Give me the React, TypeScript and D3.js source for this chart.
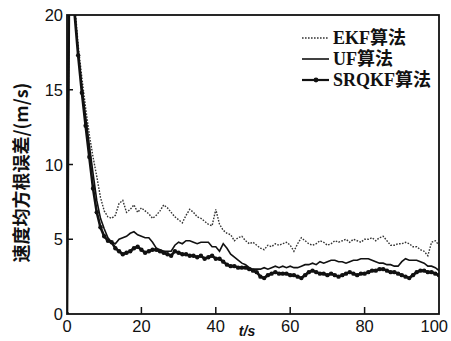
import * as d3 from "d3";

const W = 451;
const H = 341;
const M = { left: 67, right: 12, top: 15, bottom: 27 };

const times = d3.range(0, 101);

const ekf = [
	0, 40, 21, 18, 15.8, 13.8, 12, 10.5, 9.2, 7.8, 6.9, 6.5, 6.4, 6.6, 7.4, 7.6, 6.8, 7.0, 7.3, 6.8,
	7.1, 6.9, 6.7, 6.4, 6.6, 6.9, 7.3, 7.1, 6.8, 6.5, 6.3, 6.1, 6.6, 7.0, 6.8, 6.5, 6.4, 6.2, 6.0, 5.9,
	7.0, 6.0, 5.6, 5.4, 5.3, 4.9, 5.1, 5.2, 4.9, 4.7, 4.8, 4.6, 4.4, 4.3, 4.6, 4.5, 4.7, 4.6, 4.7, 4.8,
	4.6, 4.2, 4.7, 5.1, 4.9, 4.7, 4.6, 4.7, 4.9, 4.8, 4.6, 4.7, 4.9, 4.8, 4.9, 5.0, 4.8, 5.0, 4.9, 4.8,
	5.0, 5.0, 5.1, 4.9, 5.1, 5.2, 4.9, 4.6, 4.6, 4.7, 4.7, 4.8, 4.7, 4.5, 4.5, 4.3, 4.2, 3.9, 4.8, 4.9,
	4.6,
];

const uf = [
	0, 40, 20.5, 17.6, 15.2, 13.2, 11.3, 9.4, 7.6, 6.4, 5.7, 5.1, 4.8, 4.7, 5.0, 5.1, 5.2, 5.4, 5.5, 5.3,
	5.2, 5.1, 5.1, 4.8, 4.4, 4.3, 4.2, 4.2, 4.2, 4.6, 4.8, 4.7, 4.9, 4.9, 4.8, 4.7, 4.8, 4.8, 4.8, 4.5,
	4.5, 4.2, 4.7, 4.4, 4.0, 3.8, 3.6, 3.4, 3.3, 3.1, 3.0, 3.0, 3.0, 3.1, 3.0, 3.1, 3.2, 3.1, 3.2, 3.1,
	3.2, 3.1, 3.1, 3.2, 3.3, 3.3, 3.4, 3.3, 3.5, 3.4, 3.5, 3.6, 3.6, 3.5, 3.5, 3.4, 3.5, 3.6, 3.6, 3.7,
	3.7, 3.7, 3.6, 3.5, 3.4, 3.4, 3.3, 3.3, 3.2, 3.2, 3.5, 3.7, 3.6, 3.6, 3.6, 3.5, 3.4, 3.2, 3.2, 3.1,
	2.9,
];

const srqkf = [
	0, 40, 20.2, 17.3, 14.8, 12.6, 10.5, 8.4, 6.8, 5.8, 5.2, 4.9, 4.8, 4.4, 4.2, 4.0, 4.1, 4.2, 4.4, 4.5,
	4.3, 4.1, 4.2, 4.3, 4.3, 4.2, 4.1, 4.0, 3.9, 4.2, 4.1, 4.0, 4.0, 3.9, 3.9, 3.8, 3.9, 3.7, 3.8, 3.9,
	3.7, 3.7, 3.5, 3.3, 3.2, 3.2, 3.1, 3.1, 3.1, 3.0, 2.9, 2.8, 2.5, 2.4, 2.6, 2.7, 2.8, 2.7, 2.7, 2.7,
	2.6, 2.6, 2.5, 2.4, 2.6, 2.8, 2.9, 2.8, 2.7, 2.7, 2.6, 2.7, 2.6, 2.5, 2.6, 2.7, 2.8, 2.7, 2.6, 2.7,
	2.7, 2.8, 2.9, 2.9, 3.0, 3.0, 2.9, 2.8, 2.8, 2.7, 2.6, 2.5, 2.4, 2.6, 2.8, 2.9, 2.9, 2.8, 2.8, 2.7,
	2.6,
];

const xTicks = [0, 20, 40, 60, 80, 100];
const yTicks = [0, 5, 10, 15, 20];
const legendLabels = ["EKF算法", "UF算法", "SRQKF算法"];

export default function App() {
	const x = d3.scaleLinear().domain([0, 100]).range([M.left, W - M.right]);
	const y = d3.scaleLinear().domain([0, 20]).range([H - M.bottom, M.top]);

	const line = d3
		.line<number>()
		.x((_, i) => x(times[i]))
		.y((d) => y(d));

	const x0 = M.left;
	const x1 = W - M.right;
	const y0 = H - M.bottom;
	const y1 = M.top;
	const ink = "#111";
	const tickFont = "'Liberation Sans', Arial, sans-serif";
	const serif = "'Liberation Serif', 'Times New Roman', 'Noto Sans CJK SC', serif";

	const legendY = [38, 59, 80];

	return (
		<svg
			width={W}
			height={H}
			style={{ position: "absolute", left: 0, top: 0, background: "#fff" }}
		>
			<defs>
				<clipPath id="plot">
					<rect x={x0} y={y1} width={x1 - x0} height={y0 - y1} />
				</clipPath>
			</defs>

			<g clipPath="url(#plot)" fill="none">
				<path
					d={line(ekf) ?? ""}
					stroke="#333"
					strokeWidth={1.4}
					strokeDasharray="1.6,1.4"
				/>
				<path d={line(uf) ?? ""} stroke={ink} strokeWidth={1.6} />
				<path d={line(srqkf) ?? ""} stroke={ink} strokeWidth={2.6} />
				{srqkf.map((v, i) => (
					<circle key={i} cx={x(times[i])} cy={y(v)} r={2.2} fill={ink} />
				))}
			</g>

			{/* frame */}
			<rect x={x0} y={y1} width={x1 - x0} height={y0 - y1} fill="none" stroke={ink} strokeWidth={1.8} />

			{/* x ticks */}
			{xTicks.map((t) => (
				<g key={t}>
					{t > 0 && t < 100 && <line x1={x(t)} x2={x(t)} y1={y0} y2={y0 - 7} stroke={ink} strokeWidth={1.5} />}
					<text
						x={t === 100 ? x(t) + 9 : x(t)}
						y={y0 + 18}
						textAnchor={t === 100 ? "end" : "middle"}
						fontSize={16.5}
						fontFamily={tickFont}
						fill={ink}
					>
						{t}
					</text>
				</g>
			))}

			{/* y ticks */}
			{yTicks.map((t) => (
				<g key={t}>
					{t > 0 && t < 20 && <line x1={x0} x2={x0 + 6} y1={y(t)} y2={y(t)} stroke={ink} strokeWidth={1.5} />}
					<text x={x0 - 4} y={y(t) + 6} textAnchor="end" fontSize={16.5} fontFamily={tickFont} fill={ink}>
						{t}
					</text>
				</g>
			))}

			<text
				transform={`translate(28,${(y0 + y1) / 2 + 8}) rotate(-90)`}
				textAnchor="middle"
				fontSize={18}
				fontWeight="bold"
				fontFamily="'Noto Sans CJK SC', sans-serif"
				fill={ink}
			>
				速度均方根误差/(m/s)
			</text>

			<text
				x={(x0 + x1) / 2 - 6}
				y={H - 5}
				textAnchor="middle"
				fontSize={14}
				fontStyle="italic"
				fontWeight="bold"
				fontFamily={tickFont}
				fill={ink}
			>
				t/s
			</text>

			{/* legend */}
			{legendLabels.map((lab, i) => (
				<g key={lab}>
					<line
						x1={302}
						x2={329}
						y1={legendY[i]}
						y2={legendY[i]}
						stroke={i === 0 ? "#333" : ink}
						strokeWidth={i === 0 ? 1.4 : i === 1 ? 1.6 : 2.2}
						strokeDasharray={i === 0 ? "1.6,1.4" : undefined}
					/>
					{i === 2 && <circle cx={316} cy={legendY[i]} r={2.4} fill={ink} />}
					<text
						x={333}
						y={legendY[i] + 6}
						fontSize={18}
						fontWeight="bold"
						fontFamily={serif}
						fill={ink}
					>
						{lab}
					</text>
				</g>
			))}
		</svg>
	);
}
